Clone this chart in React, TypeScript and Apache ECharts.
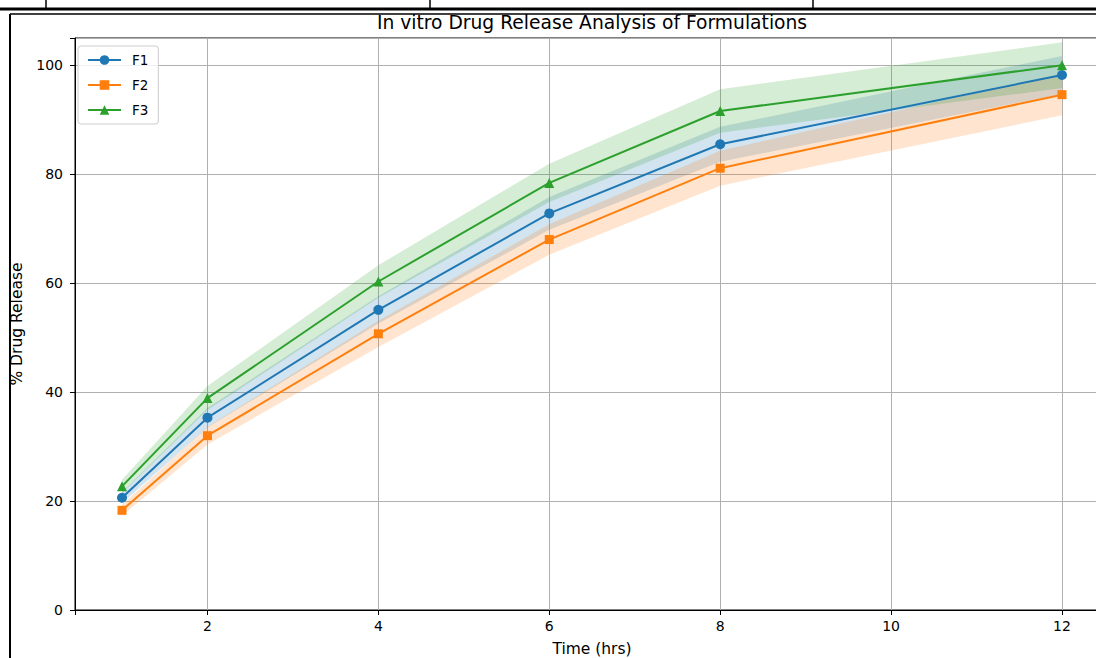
import React, { useEffect, useRef } from "react";
import * as echarts from "echarts";

const timeHrs = [1, 2, 4, 6, 8, 12];
const f1Mean = [20.6, 35.3, 55.1, 72.8, 85.5, 98.2];
const f2Mean = [18.3, 32.0, 50.7, 68.0, 81.1, 94.6];
const f3Mean = [22.7, 38.9, 60.3, 78.4, 91.6, 100.0];
const f1Sd = [1.0, 1.8, 2.5, 3.0, 3.2, 3.5];
const f2Sd = [1.0, 1.6, 2.4, 2.8, 3.2, 3.8];
const f3Sd = [1.2, 2.2, 3.0, 3.5, 4.0, 4.2];
const seriesNames = ["F1", "F2", "F3"];
const yTicks = [0, 20, 40, 60, 80, 100];
const xTicks = [2, 4, 6, 8, 10, 12];

const colors = ["#1f77b4", "#ff7f0e", "#2ca02c"];
const symbols = ["circle", "rect", "triangle"];
const symbolSizes = [10, 9, 10];
const FONT = "'DejaVu Sans', sans-serif";

export default function App() {
  const ref = useRef<HTMLDivElement>(null);
  useEffect(() => {
    document.body.style.margin = "0";
    document.body.style.overflow = "hidden";
    const chart = echarts.init(ref.current!, null, { renderer: "svg" });
    const means = [f1Mean, f2Mean, f3Mean];
    const sds = [f1Sd, f2Sd, f3Sd];
    const series: any[] = [];
    means.forEach((m, i) => {
      const rows = timeHrs.map((t, k) => [t, m[k] - sds[i][k], m[k] + sds[i][k]]);
      series.push({
        type: "custom",
        name: "band" + i,
        data: rows,
        encode: { x: 0, y: [1, 2] },
        silent: true,
        z: 1,
        renderItem: (params: any, api: any) => {
          if (params.dataIndex !== 0) return null;
          const upper = rows.map((r) => api.coord([r[0], r[2]]));
          const lower = rows.map((r) => api.coord([r[0], r[1]])).reverse();
          return {
            type: "polygon",
            shape: { points: upper.concat(lower) },
            style: { fill: colors[i], opacity: 0.2 },
          };
        },
      });
    });
    means.forEach((m, i) => {
      series.push({
        type: "line",
        name: seriesNames[i],
        data: timeHrs.map((t, k) => [t, m[k]]),
        symbol: symbols[i],
        symbolSize: symbolSizes[i],
        showAllSymbol: true,
        itemStyle: { color: colors[i] },
        lineStyle: { color: colors[i], width: 2 },
        z: 3,
      });
    });

    chart.setOption({
      animation: false,
      textStyle: { fontFamily: FONT },
      title: {
        text: "In vitro Drug Release Analysis of Formulations",
        left: 587,
        top: 8,
        textAlign: "center",
        textStyle: { fontSize: 18.7, fontWeight: "normal", color: "#000", fontFamily: FONT },
      },
      legend: {
        data: seriesNames,
        orient: "vertical",
        left: 78,
        top: 46,
        itemWidth: 33,
        itemHeight: 12,
        itemGap: 11,
        padding: [7, 10, 7, 9],
        borderColor: "#cccccc",
        borderWidth: 1,
        borderRadius: 3,
        backgroundColor: "rgba(255,255,255,0.8)",
        textStyle: { fontSize: 13.5, color: "#000", fontFamily: FONT, padding: [0, 0, 0, 6] },
      },
      grid: {
        left: 75,
        right: -13,
        top: 38,
        bottom: 48,
        containLabel: false,
        outerBoundsMode: "none",
        show: true,
        borderColor: "#000",
        borderWidth: 1,
        backgroundColor: "transparent",
      },
      xAxis: {
        type: "value",
        min: 0.45,
        max: 12.55,
        name: "Time (hrs)",
        nameLocation: "middle",
        nameGap: 31,
        nameTextStyle: { fontSize: 15.5, color: "#000", fontFamily: FONT },
        axisLine: { show: true, lineStyle: { color: "#000", width: 1 } },
        axisTick: { show: true, length: 5, lineStyle: { color: "#000" } },
        axisLabel: {
          fontSize: 14,
          color: "#000",
          margin: 9,
          fontFamily: FONT,
          formatter: (v: number) => (xTicks.includes(v) ? String(v) : ""),
        },
        splitLine: { show: true, lineStyle: { color: "#b0b0b0", width: 1 } },
      },
      yAxis: {
        type: "value",
        min: 0,
        max: 105,
        interval: 20,
        name: "% Drug Release",
        nameLocation: "middle",
        nameGap: 49,
        nameTextStyle: { fontSize: 15.5, color: "#000", fontFamily: FONT },
        axisLine: { show: true, lineStyle: { color: "#000", width: 1 } },
        axisTick: { show: true, length: 5, lineStyle: { color: "#000" } },
        axisLabel: {
          fontSize: 14,
          color: "#000",
          margin: 12,
          fontFamily: FONT,
          formatter: (v: number) => (yTicks.includes(v) ? String(v) : ""),
        },
        splitLine: { show: true, lineStyle: { color: "#b0b0b0", width: 1 } },
      },
      graphic: [
        { type: "line", shape: { x1: 0, y1: 9, x2: 1096, y2: 9 }, style: { stroke: "#000", lineWidth: 3 } },
        { type: "line", shape: { x1: 46, y1: 0, x2: 46, y2: 9 }, style: { stroke: "#000", lineWidth: 1.5 } },
        { type: "line", shape: { x1: 430, y1: 0, x2: 430, y2: 9 }, style: { stroke: "#000", lineWidth: 1.5 } },
        { type: "line", shape: { x1: 813, y1: 0, x2: 813, y2: 9 }, style: { stroke: "#000", lineWidth: 1.5 } },
        { type: "line", shape: { x1: 10, y1: 14, x2: 1096, y2: 14 }, style: { stroke: "#000", lineWidth: 1.5 } },
        { type: "line", shape: { x1: 10, y1: 14, x2: 10, y2: 658 }, style: { stroke: "#000", lineWidth: 2 } },
      ],
      series,
    });
    return () => chart.dispose();
  }, []);
  return <div ref={ref} style={{ position: "absolute", left: 0, top: 0, width: 1096, height: 658 }} />;
}
